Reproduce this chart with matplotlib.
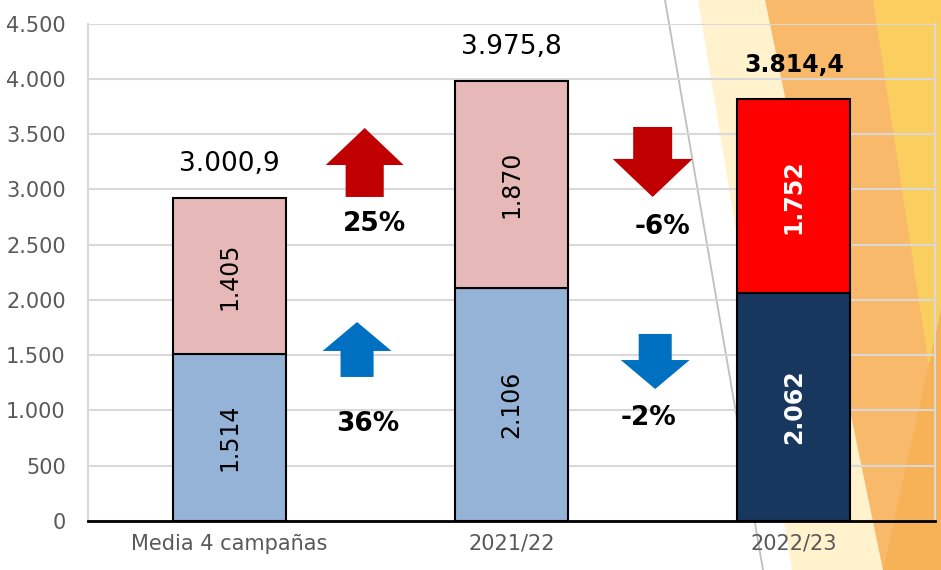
import matplotlib.pyplot as plt
from matplotlib.patches import Polygon
from matplotlib.lines import Line2D
from matplotlib.ticker import FuncFormatter, MultipleLocator

# data
categories = ["Media 4 campañas", "2021/22", "2022/23"]
bottom_vals = [1514, 2106, 2062]
top_vals = [1405, 1870, 1752]
totals = [3000.9, 3975.8, 3814.4]
bottom_colors = ["#95B3D7", "#95B3D7", "#17375E"]
top_colors = ["#E6B9B8", "#E6B9B8", "#FF0000"]
pct_total = ["25%", "-6%"]
pct_bottom = ["36%", "-2%"]


def es_num(v, dec=0):
    s = f"{v:,.{dec}f}"
    return s.replace(",", "X").replace(".", ",").replace("X", ".")


W, H = 941, 570
fig = plt.figure(figsize=(W / 100, H / 100), dpi=100)


def fpx(x, y):
    return (x / W, 1 - y / H)


# decorative background on the right
shapes = [
    ([(698, 0), (941, 0), (941, 570), (792, 570)], "#FFF2CC"),
    ([(765, 0), (941, 0), (941, 570), (883, 570)], "#F9B96B"),
    ([(873, 0), (941, 0), (941, 445)], "#FBCE60"),
    ([(941, 310), (941, 570), (883, 570)], "#F7B157"),
]
for pts, col in shapes:
    fig.patches.append(Polygon([fpx(*p) for p in pts], closed=True, facecolor=col,
                               edgecolor="none", transform=fig.transFigure, zorder=-10))
fig.lines.append(Line2D([665 / W, 763 / W], [1, 0], color="#BFBFBF", lw=1.3,
                        transform=fig.transFigure, zorder=-5))

ax = fig.add_axes([88 / W, 49 / H, (935 - 88) / W, (521 - 23.5) / H])
ax.set_facecolor("none")

x = list(range(len(categories)))
ax.bar(x, bottom_vals, width=0.4, color=bottom_colors, edgecolor="black", linewidth=1.5, zorder=3)
ax.bar(x, top_vals, bottom=bottom_vals, width=0.4, color=top_colors, edgecolor="black",
       linewidth=1.5, zorder=3)

for i in x:
    dark = i == 2
    kw = dict(rotation=90, ha="center", va="center", fontsize=17, zorder=4,
              color="white" if dark else "black", fontweight="bold" if dark else "normal")
    ax.text(i, bottom_vals[i] / 2, es_num(bottom_vals[i]), **kw)
    ax.text(i, bottom_vals[i] + top_vals[i] / 2, es_num(top_vals[i]), **kw)
    ax.annotate(es_num(totals[i], 1), (i, bottom_vals[i] + top_vals[i]), xytext=(0, 25),
                textcoords="offset points", ha="center", va="center",
                fontsize=17 if dark else 19, fontweight="bold" if dark else "normal")


def arrow(xc, y_base, y_tip, head_w, shaft_w, head_len, color):
    d = 1 if y_tip > y_base else -1
    yh = y_tip - d * head_len
    pts = [(xc - shaft_w / 2, y_base), (xc + shaft_w / 2, y_base), (xc + shaft_w / 2, yh),
           (xc + head_w / 2, yh), (xc, y_tip), (xc - head_w / 2, yh), (xc - shaft_w / 2, yh)]
    ax.add_patch(Polygon(pts, closed=True, facecolor=color, edgecolor="none", zorder=4))


red, blue = "#C00000", "#0070C0"
arrow(0.48, 2931, 3555, 0.276, 0.135, 335, red)
arrow(0.453, 1303, 1800, 0.244, 0.117, 262, blue)
arrow(1.50, 3564, 2931, 0.283, 0.138, 344, red)
arrow(1.509, 1692, 1194, 0.244, 0.117, 262, blue)

ax.text(0.514, 2690, pct_total[0], ha="center", va="center", fontsize=19, fontweight="bold")
ax.text(1.534, 2655, pct_total[1], ha="center", va="center", fontsize=19, fontweight="bold")
ax.text(0.492, 875, pct_bottom[0], ha="center", va="center", fontsize=19, fontweight="bold")
ax.text(1.484, 930, pct_bottom[1], ha="center", va="center", fontsize=19, fontweight="bold")

ax.set_xlim(-0.5, 2.5)
ax.set_ylim(0, 4500)
ax.yaxis.set_major_locator(MultipleLocator(500))
ax.yaxis.set_major_formatter(FuncFormatter(lambda v, p: es_num(v)))
ax.set_xticks(x)
ax.set_xticklabels(categories)
ax.grid(axis="y", color="#D9D9D9", linewidth=1.5, zorder=0)
ax.set_axisbelow(True)
ax.tick_params(axis="y", length=0, pad=16, labelsize=15, labelcolor="#595959")
ax.tick_params(axis="x", length=0, pad=9, labelsize=15, labelcolor="#595959")
for s in ["left", "right"]:
    ax.spines[s].set_color("#D9D9D9")
    ax.spines[s].set_linewidth(1.5)
ax.spines["top"].set_visible(False)
ax.spines["bottom"].set_color("black")
ax.spines["bottom"].set_linewidth(2)

plt.savefig("out.png", dpi=100)
